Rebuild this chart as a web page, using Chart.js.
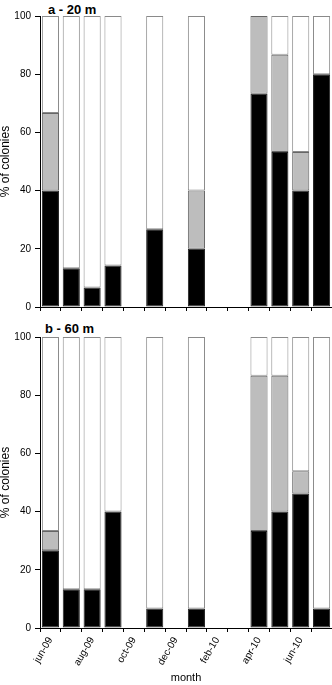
<!DOCTYPE html>
<html>
<head>
<meta charset="utf-8">
<script src="https://cdn.jsdelivr.net/npm/chart.js@4/dist/chart.umd.min.js"></script>
<style>
    body { margin: 0; background: #fff; width: 332px; height: 685px; position: relative; overflow: hidden; }
    canvas { position: absolute; left: 0; }
    .panel-title { position: absolute; font: bold 13px 'Liberation Sans', Arial, sans-serif; line-height: 13px; color: #000; white-space: nowrap; }
</style>
</head>
<body>
<div class="panel-title" style="left:48px; top:3px;">a - 20 m</div>
<div class="panel-title" style="left:45px; top:322px;">b - 60 m</div>
<canvas id="chart20" width="332" height="321" style="top:0;"></canvas>
<canvas id="chart60" width="332" height="364" style="top:321px;"></canvas>
<script>
var months = ['jun-09', 'jul-09', 'aug-09', 'sep-09', 'oct-09', 'nov-09', 'dec-09',
    'jan-10', 'feb-10', 'mar-10', 'apr-10', 'may-10', 'jun-10', 'jul-10'];
var yTicks = [0, 20, 40, 60, 80, 100];

// 20 m
var black20 = [40, 13.3, 6.7, 14.3, null, 26.7, null, 20, null, null, 73.3, 53.3, 40, 80];
var gray20  = [26.7, null, null, null, null, null, null, 20, null, null, 26.7, 33.4, 13.3, null];
var white20 = [33.3, 86.7, 93.3, 85.7, null, 73.3, null, 60, null, null, null, 13.3, 46.7, 20];

// 60 m
var black60 = [26.7, 13.3, 13.3, 40, null, 6.7, null, 6.7, null, null, 33.3, 40, 46.2, 6.7];
var gray60  = [6.6, null, null, null, null, null, null, null, null, null, 53.4, 46.7, 7.7, null];
var white60 = [66.7, 86.7, 86.7, 60, null, 93.3, null, 93.3, null, null, 13.3, 13.3, 46.1, 93.3];

Chart.defaults.font.family = "'Liberation Sans', Arial, sans-serif";
Chart.defaults.color = '#000';

function makeChart(id, black, gray, white, showLabels, xHeight) {
    var ctx = document.getElementById(id).getContext('2d');
    var ds = function (label, data, fill, border) {
        return {
            label: label,
            data: data,
            backgroundColor: fill,
            borderColor: border,
            borderWidth: 1,
            borderSkipped: false,
            barPercentage: 0.82,
            categoryPercentage: 1
        };
    };
    return new Chart(ctx, {
        type: 'bar',
        data: {
            labels: months,
            datasets: [
                ds('dead', black, '#000000', '#222222'),
                ds('partial', gray, '#bdbdbd', '#666666'),
                ds('healthy', white, '#ffffff', '#8a8a8a')
            ]
        },
        options: {
            responsive: false,
            animation: false,
            layout: { padding: { top: 16, left: 0, right: 0, bottom: 0 } },
            plugins: { legend: { display: false }, tooltip: { enabled: false } },
            scales: {
                x: {
                    stacked: true,
                    grid: { offset: true, drawOnChartArea: false, tickLength: 4, color: '#000' },
                    border: { display: true, color: '#000' },
                    ticks: {
                        display: showLabels,
                        autoSkip: false,
                        maxRotation: 60,
                        minRotation: 60,
                        padding: 3,
                        font: { size: 10 },
                        callback: function (value, index) {
                            return index % 2 === 0 ? months[index] : '';
                        }
                    },
                    title: {
                        display: showLabels,
                        text: 'month',
                        font: { size: 11 },
                        padding: { top: 0, bottom: 0 }
                    },
                    afterFit: function (scale) {
                        scale.height = xHeight;
                        scale.paddingLeft = 0;
                        scale.paddingRight = 0;
                    }
                },
                y: {
                    stacked: true,
                    min: 0,
                    max: 100,
                    afterBuildTicks: function (scale) {
                        scale.ticks = yTicks.map(function (v) { return { value: v }; });
                    },
                    grid: { drawOnChartArea: false, tickLength: 5, color: '#000' },
                    border: { display: true, color: '#000' },
                    ticks: { padding: 4, font: { size: 10 } },
                    title: {
                        display: true,
                        text: '% of colonies',
                        font: { size: 12, lineHeight: 1 },
                        padding: { top: 0, bottom: 0 }
                    },
                    afterFit: function (scale) {
                        scale.width = 40;
                    }
                }
            }
        }
    });
}

makeChart('chart20', black20, gray20, white20, false, 14);
makeChart('chart60', black60, gray60, white60, true, 57);
</script>
</body>
</html>
